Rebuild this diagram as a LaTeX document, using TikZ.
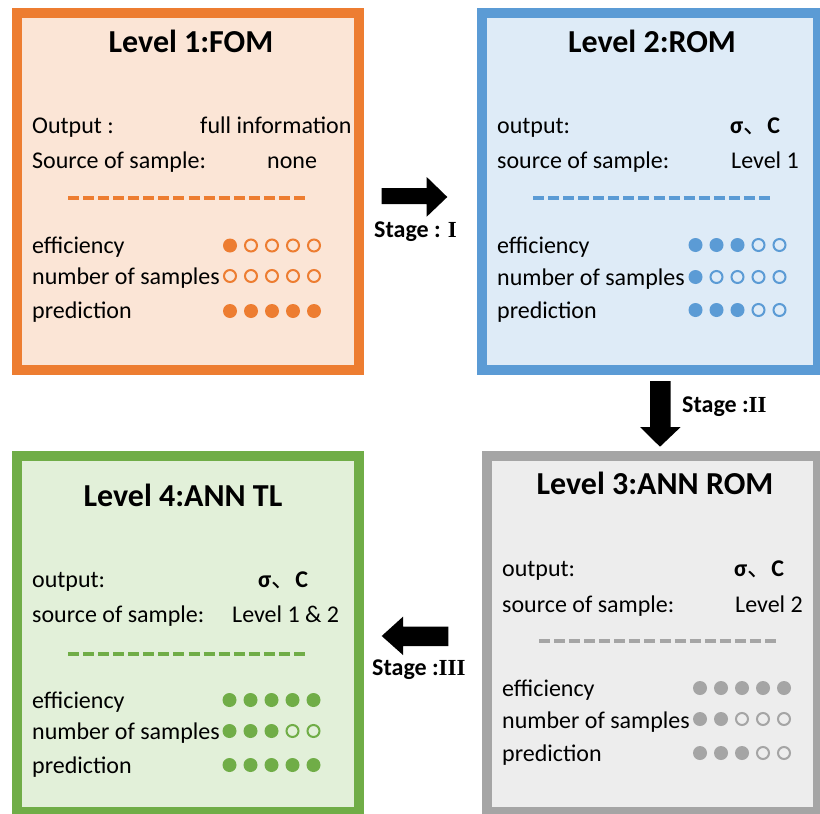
\documentclass[tikz,border=0pt]{standalone}
\usepackage{fontspec}
\setmainfont{Carlito}
\newfontfamily\cjkfont{Noto Sans CJK SC}
\newfontfamily\romfont{Liberation Serif}
\definecolor{orB}{HTML}{ED7D31}\definecolor{orF}{HTML}{FBE5D6}
\definecolor{blB}{HTML}{5B9BD5}\definecolor{blF}{HTML}{DEEBF7}
\definecolor{grB}{HTML}{A5A5A5}\definecolor{grF}{HTML}{EDEDED}
\definecolor{gnB}{HTML}{70AD47}\definecolor{gnF}{HTML}{E2F0D9}
\newcommand\dotrow[5]{%
  \foreach \f [count=\k from 0] in {#5} {%
    \ifnum\f=1 \node[dotf=#4] (#1-\k) at (#2+21*\k,#3) {};%
    \else \node[doto=#4] (#1-\k) at (#2+21*\k,#3) {};\fi}}
\newcommand\sigc{{\bfseries σ{\cjkfont\mdseries 、}C}}
\newcommand\rnum[1]{{\romfont\bfseries\fontsize{23}{26}\selectfont #1}}
\begin{document}
\begin{tikzpicture}[x=1pt,y=-1pt,
  box/.style={line width=10pt},
  lbl/.style={anchor=base west,inner sep=0pt,font=\fontsize{24}{28}\selectfont},
  ttl/.style={anchor=base,inner sep=0pt,font=\fontsize{32}{38}\selectfont\bfseries},
  stg/.style={anchor=base west,inner sep=0pt,font=\fontsize{24}{28}\selectfont\bfseries},
  dotf/.style={circle,inner sep=0pt,minimum size=14pt,fill=#1},
  doto/.style={circle,inner sep=0pt,minimum size=12pt,draw=#1,line width=2pt},
  sep/.style={line width=3.5pt,dash pattern=on 11pt off 4.07pt}]
\useasboundingbox (0,0) rectangle (820,814);
\clip (0,0) rectangle (820,814);
% boxes
\draw[box,draw=orB,fill=orF] (17,13) rectangle (358.7,369.7);
\draw[box,draw=blB,fill=blF] (482.3,13) rectangle (818,369.7);
\draw[box,draw=grB,fill=grF] (487,455.7) rectangle (818,812);
\draw[box,draw=gnB,fill=gnF] (17,455.7) rectangle (358.7,811.7);
% box 1
\node[ttl] (t1) at (191,52) {Level 1:FOM};
\node[lbl] (o1) at (32,133) {Output :};
\node[lbl] (o1v) at (200,133) {full information};
\node[lbl] (s1) at (32,168) {Source of sample:};
\node[lbl] (s1v) at (267,168) {none};
\draw[sep,orB] (68,198) -- (305,198);
\node[lbl] (e1) at (32,253) {efficiency};
\node[lbl] (n1) at (32,284) {number of samples};
\node[lbl] (p1) at (32,318) {prediction};
\dotrow{e1d}{230}{245.5}{orB}{1,0,0,0,0}
\dotrow{n1d}{230}{276}{orB}{0,0,0,0,0}
\dotrow{p1d}{230}{311}{orB}{1,1,1,1,1}
% box 2
\node[ttl] (t2) at (652,52) {Level 2:ROM};
\node[lbl] (o2) at (497,133) {output:};
\node[lbl] (o2v) at (730,133) {\sigc};
\node[lbl] (s2) at (497,168) {source of sample:};
\node[lbl] (s2v) at (731,168) {Level 1};
\draw[sep,blB] (533,198) -- (770,198);
\node[lbl] (e2) at (497,253) {efficiency};
\node[lbl] (n2) at (497,285) {number of samples};
\node[lbl] (p2) at (497,318) {prediction};
\dotrow{e2d}{695.5}{245}{blB}{1,1,1,0,0}
\dotrow{n2d}{695.5}{277}{blB}{1,0,0,0,0}
\dotrow{p2d}{695.5}{310}{blB}{1,1,1,0,0}
% box 3
\node[ttl] (t3) at (655,494) {Level 3:ANN ROM};
\node[lbl] (o3) at (502,576) {output:};
\node[lbl] (o3v) at (734,576) {\sigc};
\node[lbl] (s3) at (502,612) {source of sample:};
\node[lbl] (s3v) at (735,612) {Level 2};
\draw[sep,grB] (539,641) -- (776,641);
\node[lbl] (e3) at (502,696) {efficiency};
\node[lbl] (n3) at (502,728) {number of samples};
\node[lbl] (p3) at (502,761) {prediction};
\dotrow{e3d}{700}{688}{grB}{1,1,1,1,1}
\dotrow{n3d}{700}{719}{grB}{1,1,0,0,0}
\dotrow{p3d}{700}{753}{grB}{1,1,1,0,0}
% box 4
\node[ttl] (t4) at (183,506) {Level 4:ANN TL};
\node[lbl] (o4) at (32,587) {output:};
\node[lbl] (o4v) at (258,587) {\sigc};
\node[lbl] (s4) at (32,622) {source of sample:};
\node[lbl] (s4v) at (232,622) {Level 1 \& 2};
\draw[sep,gnB] (68,654) -- (305,654);
\node[lbl] (e4) at (32,708) {efficiency};
\node[lbl] (n4) at (32,739) {number of samples};
\node[lbl] (p4) at (32,773) {prediction};
\dotrow{e4d}{229.5}{700}{gnB}{1,1,1,1,1}
\dotrow{n4d}{229.5}{731}{gnB}{1,1,1,0,0}
\dotrow{p4d}{229.5}{765}{gnB}{1,1,1,1,1}
% arrows
\fill[black] (381.7,188) -- (426.7,188) -- (426.7,177) -- (447.3,197) -- (426.7,216.7) -- (426.7,204) -- (381.7,204) -- cycle;
\node[stg] (st1) at (374,237) {Stage : \rnum{I}};
\fill[black] (650,381) -- (670.7,381) -- (670.7,427) -- (680.7,427) -- (660,446.7) -- (640,427) -- (650,427) -- cycle;
\node[stg] (st2) at (682,412) {Stage :\rnum{II}};
\fill[black] (448.3,626.7) -- (403,626.7) -- (403,616.7) -- (381.7,636) -- (403,655) -- (403,646) -- (448.3,646) -- cycle;
\node[stg] (st3) at (372,675) {Stage :\rnum{III}};
\end{tikzpicture}
\end{document}
